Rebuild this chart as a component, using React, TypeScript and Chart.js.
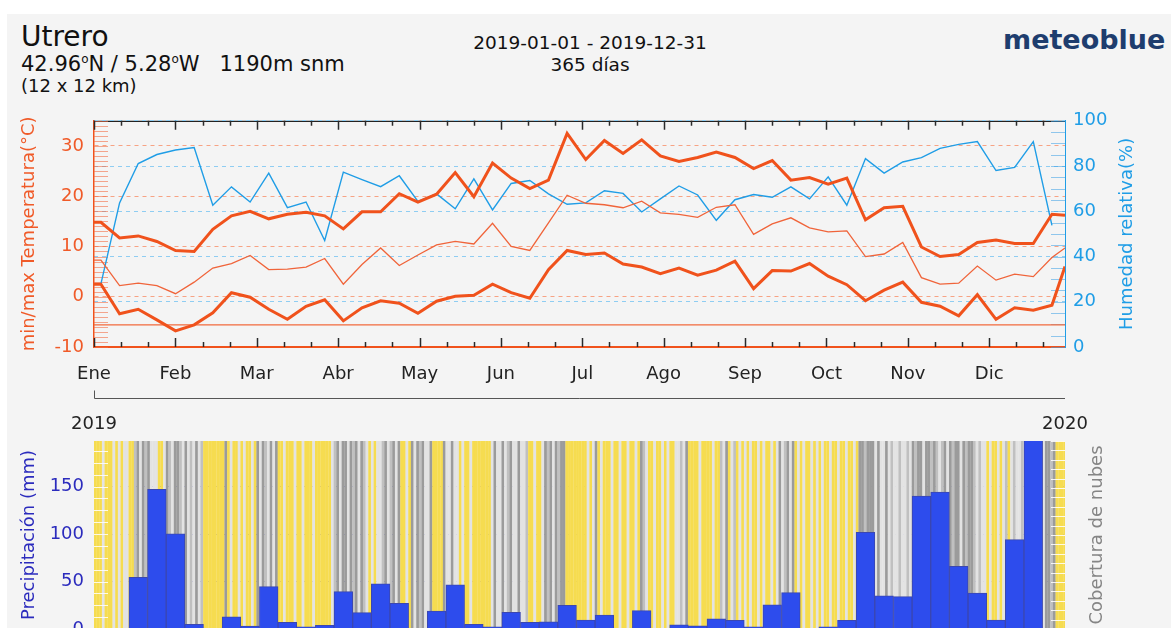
import React, { useEffect, useRef } from "react";
import { Chart, registerables } from "chart.js";

Chart.register(...registerables);
Chart.defaults.font.family = "'DejaVu Sans', sans-serif";

// ---------- labels ----------
const MONTHS = ["Ene", "Feb", "Mar", "Abr", "May", "Jun", "Jul", "Ago", "Sep", "Oct", "Nov", "Dic"];
const YEARS = ["2019", "2020"];
const TEMP_TICKS = [-10, 0, 10, 20, 30];
const HUM_TICKS = [0, 20, 40, 60, 80, 100];
const PRECIP_TICKS = [0, 50, 100, 150];

// ---------- weekly series (52 weeks) ----------
const TEMP_MAX = [14.8, 11.7, 12.1, 11.0, 9.2, 9.0, 13.4, 16.1, 17.0, 15.5, 16.4, 16.8, 16.1, 13.5, 16.9, 16.9, 20.5, 18.8, 20.4, 24.7, 19.9, 26.6, 23.6, 21.5, 23.2, 32.5, 27.3, 31.1, 28.5, 31.2, 28.0, 26.9, 27.7, 28.8, 27.7, 25.5, 27.1, 23.2, 23.7, 22.4, 23.6, 15.3, 17.7, 18.0, 9.9, 8.0, 8.4, 10.8, 11.3, 10.6, 10.6, 16.4];
const TEMP_MEAN = [7.3, 2.2, 2.7, 2.2, 0.6, 2.9, 5.7, 6.6, 8.2, 5.4, 5.5, 5.9, 7.6, 2.5, 6.4, 9.7, 6.2, 8.3, 10.3, 11.0, 10.5, 14.6, 10.0, 9.2, 14.7, 20.2, 18.6, 18.3, 17.7, 19.0, 16.7, 16.4, 15.8, 17.8, 18.3, 12.4, 14.5, 15.7, 13.7, 12.9, 13.1, 8.0, 8.5, 10.8, 3.8, 2.5, 2.7, 6.1, 3.3, 4.5, 4.0, 7.8];
const TEMP_MIN = [2.5, -3.4, -2.5, -4.6, -6.8, -5.6, -3.2, 0.8, -0.1, -2.5, -4.5, -1.9, -0.6, -4.8, -2.2, -0.8, -1.3, -3.3, -0.9, 0.1, 0.3, 2.5, 0.8, -0.3, 5.4, 9.2, 8.4, 8.7, 6.5, 5.9, 4.6, 5.7, 4.3, 5.3, 7.1, 1.6, 5.2, 5.1, 6.6, 4.1, 2.4, -0.8, 1.3, 2.9, -1.1, -1.9, -3.8, 0.4, -4.5, -2.2, -2.7, -1.7];
const HUMIDITY = [27.9, 63.7, 81.1, 85.1, 87.1, 88.2, 62.7, 70.8, 64.1, 76.9, 61.6, 64.1, 47.1, 77.3, 74.0, 70.9, 75.7, 64.4, 67.7, 61.1, 74.3, 60.6, 72.3, 73.6, 67.7, 63.1, 63.7, 69.1, 67.9, 59.7, 65.5, 71.2, 67.2, 56.0, 65.1, 67.4, 66.2, 70.8, 65.5, 75.2, 62.7, 83.3, 76.9, 81.8, 83.7, 87.8, 89.6, 90.8, 78.0, 79.4, 90.8, 53.8];
const END_MAX = 16.2;
const END_MEAN = 9.7;
const END_MIN = 6.0;
const REF_LINE_TEMP = -5.6;
const PRECIP = [0, 0.5, 54.3, 147.1, 100.2, 4.8, 0, 12.9, 3.1, 44.7, 7.0, 2.3, 3.8, 39.4, 17.2, 47.6, 27.1, 0.5, 19.0, 46.5, 4.8, 2.3, 17.6, 7.0, 7.6, 25.0, 9.4, 14.7, 0.5, 19.3, 0.5, 4.5, 3.4, 10.8, 9.1, 2.3, 25.5, 38.3, 0.3, 2.3, 9.1, 101.9, 34.9, 34.1, 140.0, 144.3, 65.9, 37.7, 9.4, 94.2, 215, 0];

// ---------- daily cloud cover class (Y clear, L light, G cloudy, D overcast) ----------
const CLOUD_SEGMENTS = [
  "YYYLYYYL", "YLYLLYYG", "DLDGD", "LLL", "YYL", "DGLDDGLD", "LGLDLG", "YYYYYYYY", "D",
  "YLYYLYLYYLY", "DLDGLDLD", "YYLYYYLYY", "LYYYLYYYYYYLG", "DLDDLDGDLDG", "LYLYLL", "GDLGDLD",
  "YYLY", "DLDGDLLD", "YYYY", "DLLDLL", "YLYYL", "YYYYYYY", "LDLLDLGDLLDLLG", "YYLYYL",
  "DGDLDGDD", "YYYYYYY", "YLYLDYLY", "YYLYYLYYLYYLY", "DGL", "YYLYYLYLYYL", "LGLD",
  "YYYYLYYYYLY", "YGLDYLGYL", "YLYLYYLYLYYLYL", "DLGDLD", "YLYLYYLYLYLYYL", "YYLYYLYYLY",
  "DDGDDD", "LDLLDLG", "LLGLLGL", "DGDDLDDGD", "GLGDL", "DGDDLDGDDG", "LGLL", "YLYYLY",
  "LGYLGL", "LGLGDLGLGL", "DDGD", "YYYY",
];
const CLOUD_COLORS: Record<string, string> = { Y: "#f6dc50", L: "#e3e3e3", G: "#c0c0c0", D: "#9b9b9b" };

// ---------- axis geometry (days) ----------
const X_MAX = 364.5;
const MONTH_LEN = 30.55;
const WEEK_OFFSET = 2.6;
const TEMP_MIN_AXIS = -10;
const TEMP_MAX_AXIS = 35;
const PRECIP_MAX_AXIS = 198;

const ORANGE = "#f0521c";
const ORANGE_TEXT = "#f05a28";
const BLUE = "#1f9de6";
const PRECIP_TEXT = "#2b2bbd";

const weekDay = (i: number) => WEEK_OFFSET + 7 * i;

function lineSeries(values: number[], endValue?: number) {
  const pts: { x: number; y: number }[] = [{ x: 0, y: values[0] }];
  values.forEach((v, i) => pts.push({ x: weekDay(i), y: v }));
  if (endValue !== undefined) pts.push({ x: X_MAX, y: endValue });
  return pts;
}

const topDecor = {
  id: "topDecor",
  beforeDraw(chart: any) {
    const { ctx, chartArea: a } = chart;
    ctx.save();
    ctx.strokeStyle = "#222";
    ctx.lineWidth = 1.2;
    ctx.beginPath();
    ctx.moveTo(a.left, a.top + 0.5);
    ctx.lineTo(a.right, a.top + 0.5);
    ctx.stroke();
    ctx.restore();
  },
  beforeDatasetsDraw(chart: any) {
    const { ctx, chartArea: a, scales } = chart;
    ctx.save();
    ctx.lineWidth = 1;
    ctx.strokeStyle = "rgba(242,110,70,0.6)";
    for (let t = TEMP_MIN_AXIS; t <= TEMP_MAX_AXIS; t++) {
      const y = Math.round(scales.yT.getPixelForValue(t)) + 0.5;
      ctx.beginPath();
      ctx.moveTo(a.left, y);
      ctx.lineTo(a.left + 14, y);
      ctx.stroke();
    }
    ctx.strokeStyle = "rgba(60,160,230,0.55)";
    for (let h = 0; h <= 100; h += 5) {
      const y = Math.round(scales.yH.getPixelForValue(h)) + 0.5;
      ctx.beginPath();
      ctx.moveTo(a.right - 14, y);
      ctx.lineTo(a.right, y);
      ctx.stroke();
    }
    ctx.restore();
  },
  afterDatasetsDraw(chart: any) {
    const { ctx, chartArea: a, scales } = chart;
    const x = scales.x;
    ctx.save();
    ctx.strokeStyle = "#2a2a2a";
    ctx.lineWidth = 1.5;
    for (let m = 0; m < 12; m++) {
      for (let k = 0; k < 3; k++) {
        const v = m * MONTH_LEN + (k * MONTH_LEN) / 3;
        if (v > X_MAX) continue;
        const px = Math.round(x.getPixelForValue(v)) + 0.5;
        const len = k === 0 ? 9 : 5;
        ctx.beginPath();
        ctx.moveTo(px, a.top);
        ctx.lineTo(px, a.top + len);
        ctx.moveTo(px, a.bottom);
        ctx.lineTo(px, a.bottom - len);
        ctx.stroke();
      }
    }
    // year bracket line under month labels
    const by = a.bottom + 51.5;
    ctx.strokeStyle = "#555";
    ctx.lineWidth = 1;
    ctx.beginPath();
    ctx.moveTo(a.left + 0.5, by - 8);
    ctx.lineTo(a.left + 0.5, by);
    ctx.lineTo(a.right, by);
    ctx.stroke();
    // right title
    ctx.translate(a.right + 62, (a.top + a.bottom) / 2);
    ctx.rotate(-Math.PI / 2);
    ctx.fillStyle = BLUE;
    ctx.font = "18px 'DejaVu Sans'";
    ctx.textAlign = "center";
    ctx.textBaseline = "middle";
    ctx.fillText("Humedad relativa(%)", 0, 0);
    ctx.restore();
  },
};

const bottomDecor = {
  id: "bottomDecor",
  afterDatasetsDraw(chart: any) {
    const { ctx, chartArea: a, scales } = chart;
    ctx.save();
    ctx.strokeStyle = "rgba(255,255,255,0.85)";
    ctx.lineWidth = 1;
    for (let p = 0; p <= PRECIP_MAX_AXIS; p += 12.5) {
      const y = Math.round(scales.yP.getPixelForValue(p)) + 0.5;
      ctx.beginPath();
      ctx.moveTo(a.left, y);
      ctx.lineTo(a.left + 14, y);
      ctx.stroke();
    }
    for (let c = 0; c <= 1.0001; c += 0.05) {
      const y = Math.round(scales.yC.getPixelForValue(c)) + 0.5;
      ctx.beginPath();
      ctx.moveTo(a.right - 14, y);
      ctx.lineTo(a.right, y);
      ctx.stroke();
    }
    ctx.translate(a.right + 32, (a.top + a.bottom) / 2);
    ctx.rotate(-Math.PI / 2);
    ctx.fillStyle = "#858585";
    ctx.font = "18px 'DejaVu Sans'";
    ctx.textAlign = "center";
    ctx.textBaseline = "middle";
    ctx.fillText("Cobertura de nubes", 0, 0);
    ctx.restore();
  },
};

function TopChart() {
  const ref = useRef<HTMLCanvasElement>(null);
  useEffect(() => {
    if (!ref.current) return;
    const chart = new Chart(ref.current, {
      type: "line",
      data: {
        datasets: [
          { data: lineSeries(TEMP_MAX, END_MAX), yAxisID: "yT", borderColor: ORANGE, borderWidth: 3, pointRadius: 0, tension: 0 },
          { data: lineSeries(TEMP_MIN, END_MIN), yAxisID: "yT", borderColor: ORANGE, borderWidth: 3, pointRadius: 0, tension: 0 },
          { data: lineSeries(TEMP_MEAN, END_MEAN), yAxisID: "yT", borderColor: "#f0643a", borderWidth: 1.3, pointRadius: 0, tension: 0 },
          { data: [{ x: 0, y: REF_LINE_TEMP }, { x: X_MAX, y: REF_LINE_TEMP }], yAxisID: "yT", borderColor: "#f26a3c", borderWidth: 1.3, pointRadius: 0 },
          { data: lineSeries(HUMIDITY), yAxisID: "yH", borderColor: BLUE, borderWidth: 1.4, pointRadius: 0, tension: 0 },
        ],
      },
      options: {
        responsive: false,
        animation: false,
        devicePixelRatio: 1,
        layout: { padding: { top: 12, left: 0, right: 0, bottom: 0 } },
        plugins: { legend: { display: false }, tooltip: { enabled: false } },
        scales: {
          x: {
            type: "linear",
            min: 0,
            max: X_MAX,
            position: "bottom",
            afterBuildTicks: (s: any) => {
              s.ticks = MONTHS.map((_, i) => ({ value: i * MONTH_LEN }));
            },
            ticks: { autoSkip: false, maxRotation: 0, padding: 17, color: "#222", font: { size: 18 }, callback: (_v: any, i: number) => MONTHS[i] },
            grid: { display: false, drawTicks: false },
            border: { display: true, color: ORANGE, width: 2 },
            afterFit: (s: any) => {
              s.height = 63;
            },
          },
          yT: {
            type: "linear",
            position: "left",
            min: TEMP_MIN_AXIS,
            max: TEMP_MAX_AXIS,
            afterBuildTicks: (s: any) => {
              s.ticks = TEMP_TICKS.map((v) => ({ value: v }));
            },
            ticks: { color: ORANGE_TEXT, font: { size: 18 }, padding: 10, callback: (v: any) => String(v) },
            grid: { color: "#f7a384", lineWidth: 1, drawTicks: false },
            border: { display: true, color: ORANGE, width: 1.5, dash: [4, 4] },
            title: { display: true, text: "min/max Temperatura(°C)", color: ORANGE_TEXT, font: { size: 18 }, padding: { top: 19, bottom: 0 } },
            afterFit: (s: any) => {
              s.width = 94;
            },
          },
          yH: {
            type: "linear",
            position: "right",
            min: 0,
            max: 100,
            afterBuildTicks: (s: any) => {
              s.ticks = HUM_TICKS.map((v) => ({ value: v }));
            },
            ticks: { color: BLUE, font: { size: 18 }, padding: 8, callback: (v: any) => String(v) },
            grid: { color: "#8fcdf2", lineWidth: 1, drawTicks: false },
            border: { display: true, color: BLUE, width: 1, dash: [4, 4] },
            afterFit: (s: any) => {
              s.width = 106;
            },
          },
        },
      } as any,
      plugins: [topDecor],
    });
    return () => chart.destroy();
  }, []);
  return <canvas ref={ref} width={1171} height={310} style={{ position: "absolute", left: 0, top: 100, width: 1171, height: 310 }} />;
}

function BottomChart() {
  const ref = useRef<HTMLCanvasElement>(null);
  useEffect(() => {
    if (!ref.current) return;
    const cloudString = CLOUD_SEGMENTS.join("");
    const cloudData = cloudString.split("").map((_, d) => ({ x: d + 0.5, y: 1 }));
    const cloudBg = cloudString.split("").map((c) => CLOUD_COLORS[c] || CLOUD_COLORS.Y);
    const chart = new Chart(ref.current, {
      type: "bar",
      data: {
        datasets: [
          {
            data: PRECIP.map((v, k) => ({ x: weekDay(k), y: v })),
            xAxisID: "x",
            yAxisID: "yP",
            backgroundColor: "#2d4ced",
            borderColor: "#3b47b0",
            borderWidth: 1,
            grouped: false,
            barPercentage: 1,
            categoryPercentage: 1,
            order: 1,
          },
          {
            data: cloudData,
            xAxisID: "x2",
            yAxisID: "yC",
            backgroundColor: cloudBg,
            borderWidth: 0,
            grouped: false,
            barPercentage: 1.08,
            categoryPercentage: 1,
            order: 2,
          },
        ],
      },
      options: {
        responsive: false,
        animation: false,
        devicePixelRatio: 1,
        layout: { padding: { top: 0, left: 0, right: 0, bottom: 31 } },
        plugins: { legend: { display: false }, tooltip: { enabled: false } },
        scales: {
          x: {
            type: "linear",
            min: 0,
            max: X_MAX,
            position: "top",
            offset: false,
            afterBuildTicks: (s: any) => {
              s.ticks = [{ value: 0 }, { value: X_MAX }];
            },
            ticks: { autoSkip: false, maxRotation: 0, padding: 6, color: "#222", font: { size: 18 }, callback: (_v: any, i: number) => YEARS[i] },
            grid: { display: false, drawTicks: false, offset: false },
            border: { display: false },
            afterFit: (s: any) => {
              s.height = 41;
            },
          },
          x2: { type: "linear", min: 0, max: X_MAX, display: false, offset: false, grid: { offset: false } },
          yP: {
            type: "linear",
            position: "left",
            min: 0,
            max: PRECIP_MAX_AXIS,
            z: 1,
            afterBuildTicks: (s: any) => {
              s.ticks = PRECIP_TICKS.map((v) => ({ value: v }));
            },
            ticks: { color: PRECIP_TEXT, font: { size: 18 }, padding: 10, callback: (v: any) => String(v) },
            grid: { color: "#6f6fd4", lineWidth: 1, drawTicks: false },
            border: { display: false, dash: [4, 4] },
            title: { display: true, text: "Precipitación (mm)", color: PRECIP_TEXT, font: { size: 18 }, padding: { top: 19, bottom: 0 } },
            afterFit: (s: any) => {
              s.width = 94;
            },
          },
          yC: {
            type: "linear",
            position: "right",
            min: 0,
            max: 1,
            ticks: { display: false },
            grid: { display: false, drawTicks: false },
            border: { display: false },
            afterFit: (s: any) => {
              s.width = 106;
            },
          },
        },
      } as any,
      plugins: [bottomDecor],
    });
    return () => chart.destroy();
  }, []);
  return <canvas ref={ref} width={1171} height={260} style={{ position: "absolute", left: 0, top: 400, width: 1171, height: 260 }} />;
}

export default function App() {
  const txt: React.CSSProperties = { position: "absolute", lineHeight: 1, color: "#111", whiteSpace: "pre", fontFamily: "'DejaVu Sans', sans-serif" };
  const deg: React.CSSProperties = { fontSize: 12, position: "relative", top: -8 };
  return (
    <div style={{ position: "absolute", left: 0, top: 0, width: 1171, height: 628, overflow: "hidden", background: "#ffffff" }}>
      <div style={{ position: "absolute", left: 7, top: 14, right: 0, bottom: 0, background: "#f4f4f4" }} />
      <div style={{ ...txt, left: 21, top: 23, fontSize: 28 }}>Utrero</div>
      <div style={{ ...txt, left: 21, top: 54, fontSize: 21 }}>
        42.96<span style={deg}>o</span>N / 5.28<span style={deg}>o</span>W   1190m snm
      </div>
      <div style={{ ...txt, left: 21, top: 76.5, fontSize: 18 }}>(12 x 12 km)</div>
      <div style={{ ...txt, left: 390, width: 400, textAlign: "center", top: 33.5, fontSize: 18.5 }}>2019-01-01 - 2019-12-31</div>
      <div style={{ ...txt, left: 390, width: 400, textAlign: "center", top: 55.5, fontSize: 18.5 }}>365 días</div>
      <div style={{ ...txt, left: 1003, top: 26, fontSize: 27, fontWeight: "bold", color: "#1e3d6e" }}>meteoblue</div>
      <TopChart />
      <BottomChart />
    </div>
  );
}
